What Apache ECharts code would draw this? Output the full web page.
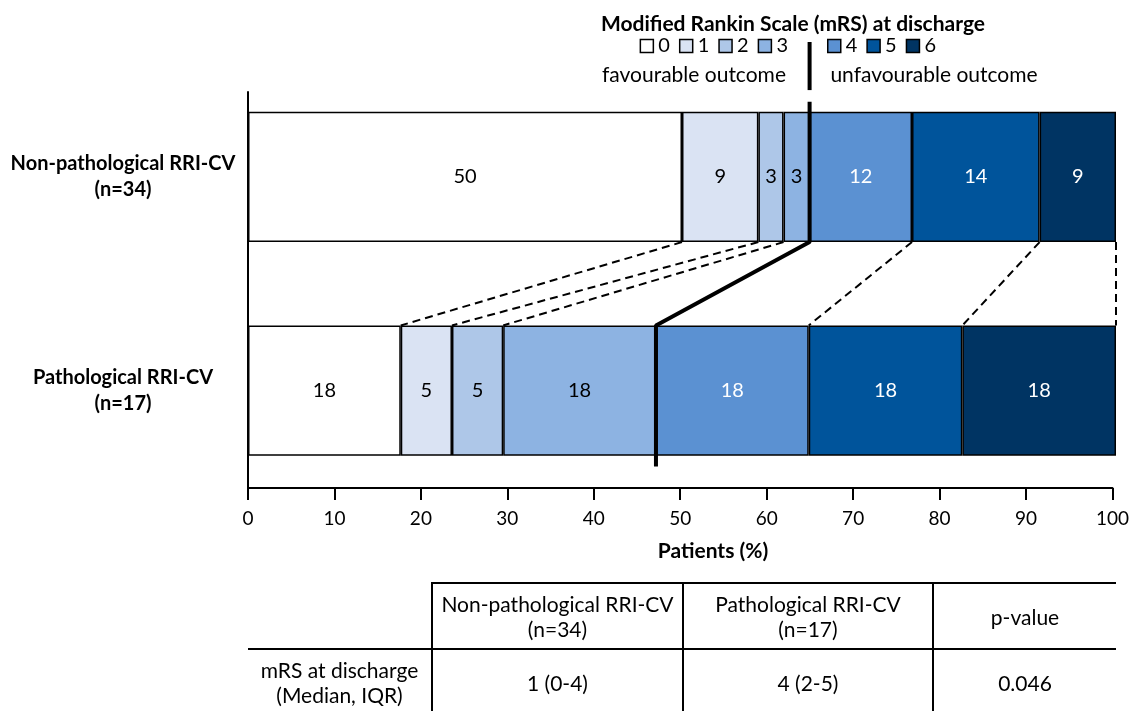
<!DOCTYPE html>
<html>
<head>
<meta charset="utf-8">
<script src="https://cdn.jsdelivr.net/npm/echarts@6/dist/echarts.min.js"></script>
<style>
  html, body { margin:0; padding:0; background:#fff; }
  #chart { position:absolute; left:0; top:0; width:1132px; height:711px; }
  #tbl { position:absolute; left:248px; top:582px; width:868px; border-collapse:collapse; font-family:Lato, 'Open Sans', sans-serif; font-size:21px; color:#000; table-layout:fixed; }
  #tbl td { text-align:center; vertical-align:middle; padding:0; line-height:25px; }
</style>
</head>
<body>
<div id="chart"></div>
<table id="tbl"><colgroup id="cg"></colgroup></table>
<script>
// ---------- data ----------
const categories = ['Non-pathological RRI-CV\n(n=34)', 'Pathological RRI-CV\n(n=17)'];
const mrsLevels = ['0', '1', '2', '3', '4', '5', '6'];
const nonPathPct = [50.0, 8.8, 2.9, 3.0, 11.8, 14.7, 8.8];
const pathPct = [17.6, 5.9, 5.9, 17.6, 17.6, 17.7, 17.7];
const nonPathLabels = ['50', '9', '3', '3', '12', '14', '9'];
const pathLabels = ['18', '5', '5', '18', '18', '18', '18'];
const xTicks = [0, 10, 20, 30, 40, 50, 60, 70, 80, 90, 100];
const tableHeader = ['', 'Non-pathological RRI-CV\n(n=34)', 'Pathological RRI-CV\n(n=17)', 'p-value'];
const tableRow = ['mRS at discharge\n(Median, IQR)', '1 (0-4)', '4 (2-5)', '0.046'];
const favourableCount = 4; // levels 0-3 favourable

// ---------- styles ----------
const FONT = 'Lato, "Open Sans", sans-serif';
const colors = ['#ffffff', '#dae3f3', '#aec7e8', '#8db3e2', '#5b91d2', '#00549b', '#003463'];
const labelColors = ['#000', '#000', '#000', '#000', '#fff', '#fff', '#fff'];
const barFrac = 0.61, hw = barFrac / 2;

function cum(arr, k) { let s = 0; for (let i = 0; i < k; i++) s += arr[i]; return s; }

const barSeries = mrsLevels.map((lvl, i) => ({
  name: lvl,
  type: 'bar',
  stack: 'mrs',
  xAxisIndex: 0,
  yAxisIndex: 0,
  barWidth: (barFrac * 100) + '%',
  data: [nonPathPct[i], pathPct[i]],
  itemStyle: { color: colors[i], borderColor: '#000', borderWidth: 1.5 },
  label: {
    show: true, position: 'inside', fontSize: 20, fontFamily: FONT, color: labelColors[i],
    formatter: p => (p.dataIndex === 0 ? nonPathLabels[i] : pathLabels[i])
  },
  silent: true
}));

const connectorSeries = [];
for (let k = 1; k <= mrsLevels.length; k++) {
  if (k === favourableCount) continue;
  connectorSeries.push({
    type: 'line', xAxisIndex: 0, yAxisIndex: 1, symbol: 'none', clip: false, silent: true, z: 5,
    lineStyle: { color: '#000', width: 2, type: [8, 5] },
    data: [[cum(nonPathPct, k), 0.5 + hw], [cum(pathPct, k), 1.5 - hw]]
  });
}
const favTop = cum(nonPathPct, favourableCount), favBot = cum(pathPct, favourableCount);
const dividerSeries = [
  {
    type: 'line', xAxisIndex: 0, yAxisIndex: 1, symbol: 'none', clip: false, silent: true, z: 6,
    lineStyle: { color: '#000', width: 4 },
    data: [[favTop, 0.5 - hw - 0.047], [favTop, 0.5 + hw], [favBot, 1.5 - hw], [favBot, 1.5 + hw + 0.05]]
  },
  {
    type: 'line', xAxisIndex: 0, yAxisIndex: 1, symbol: 'none', clip: false, silent: true, z: 6,
    lineStyle: { color: '#000', width: 4 },
    data: [[favTop, -0.131], [favTop, 0.094]]
  }
];

const legendCommon = {
  top: 36, itemWidth: 13, itemHeight: 13, itemGap: 9, padding: 0, icon: 'rect',
  selectedMode: false,
  textStyle: { fontSize: 20, color: '#000', fontFamily: FONT },
  itemStyle: { borderColor: '#000', borderWidth: 1.5 }
};

const option = {
  animation: false,
  textStyle: { fontFamily: FONT },
  grid: [
    { left: 248, right: 16, top: 70, bottom: 213.5 },
    { left: 248, right: 16, top: 92, bottom: 223 }
  ],
  xAxis: [
    { gridIndex: 0, type: 'value', min: 0, max: 100, show: false },
    {
      gridIndex: 1, type: 'value', min: xTicks[0], max: xTicks[xTicks.length - 1], interval: xTicks[1] - xTicks[0],
      axisLine: { show: true, lineStyle: { color: '#000', width: 2 } },
      axisTick: { show: true, length: 12, lineStyle: { color: '#000', width: 2 } },
      axisLabel: { color: '#000', fontSize: 19, margin: 21, fontFamily: FONT },
      splitLine: { show: false }
    }
  ],
  yAxis: [
    {
      gridIndex: 0, type: 'category', data: categories, inverse: true,
      axisLine: { show: false }, axisTick: { show: false },
      axisLabel: { fontWeight: 'bold', fontSize: 20, color: '#000', align: 'center', margin: 125, lineHeight: 26, fontFamily: FONT }
    },
    { gridIndex: 0, type: 'value', min: 0, max: 2, inverse: true, show: false },
    {
      gridIndex: 1, type: 'value', min: 0, max: 1,
      axisLine: { show: true, lineStyle: { color: '#000', width: 2 } },
      axisTick: { show: false }, axisLabel: { show: false }, splitLine: { show: false }
    }
  ],
  legend: [
    Object.assign({}, legendCommon, { data: mrsLevels.slice(0, favourableCount), right: 344 }),
    Object.assign({}, legendCommon, { data: mrsLevels.slice(favourableCount), left: 827 })
  ],
  graphic: [
    { type: 'text', x: 793, y: 24, style: { text: 'Modified Rankin Scale (mRS) at discharge', fontSize: 21, fontWeight: 'bold', fontFamily: FONT, fill: '#000', align: 'center', verticalAlign: 'middle' } },
    { type: 'text', x: 694, y: 75, style: { text: 'favourable outcome', fontSize: 21, fontFamily: FONT, fill: '#000', align: 'center', verticalAlign: 'middle' } },
    { type: 'text', x: 934, y: 75, style: { text: 'unfavourable outcome', fontSize: 21, fontFamily: FONT, fill: '#000', align: 'center', verticalAlign: 'middle' } },
    { type: 'text', x: 713, y: 551, style: { text: 'Patients (%)', fontSize: 21, fontWeight: 'bold', fontFamily: FONT, fill: '#000', align: 'center', verticalAlign: 'middle' } }
  ],
  series: barSeries.concat(connectorSeries, dividerSeries)
};

const chart = echarts.init(document.getElementById('chart'), null, { renderer: 'canvas' });
chart.setOption(option);

// ---------- table ----------
const colWidths = [184, 251, 250, 183];
const tbl = document.getElementById('tbl');
const cg = document.getElementById('cg');
colWidths.forEach(w => { const c = document.createElement('col'); c.style.width = w + 'px'; cg.appendChild(c); });
const B = '2px solid #000';
function makeRow(cells, height, isHeader) {
  const tr = document.createElement('tr');
  cells.forEach((txt, i) => {
    const td = document.createElement('td');
    td.style.height = height + 'px';
    td.innerHTML = txt.split('\n').join('<br>');
    if (i > 0) td.style.borderLeft = B;
    if (isHeader) { if (i > 0) td.style.borderTop = B; }
    else td.style.borderTop = B;
    tr.appendChild(td);
  });
  tbl.appendChild(tr);
}
makeRow(tableHeader, 64, true);
makeRow(tableRow, 64, false);
</script>
</body>
</html>
